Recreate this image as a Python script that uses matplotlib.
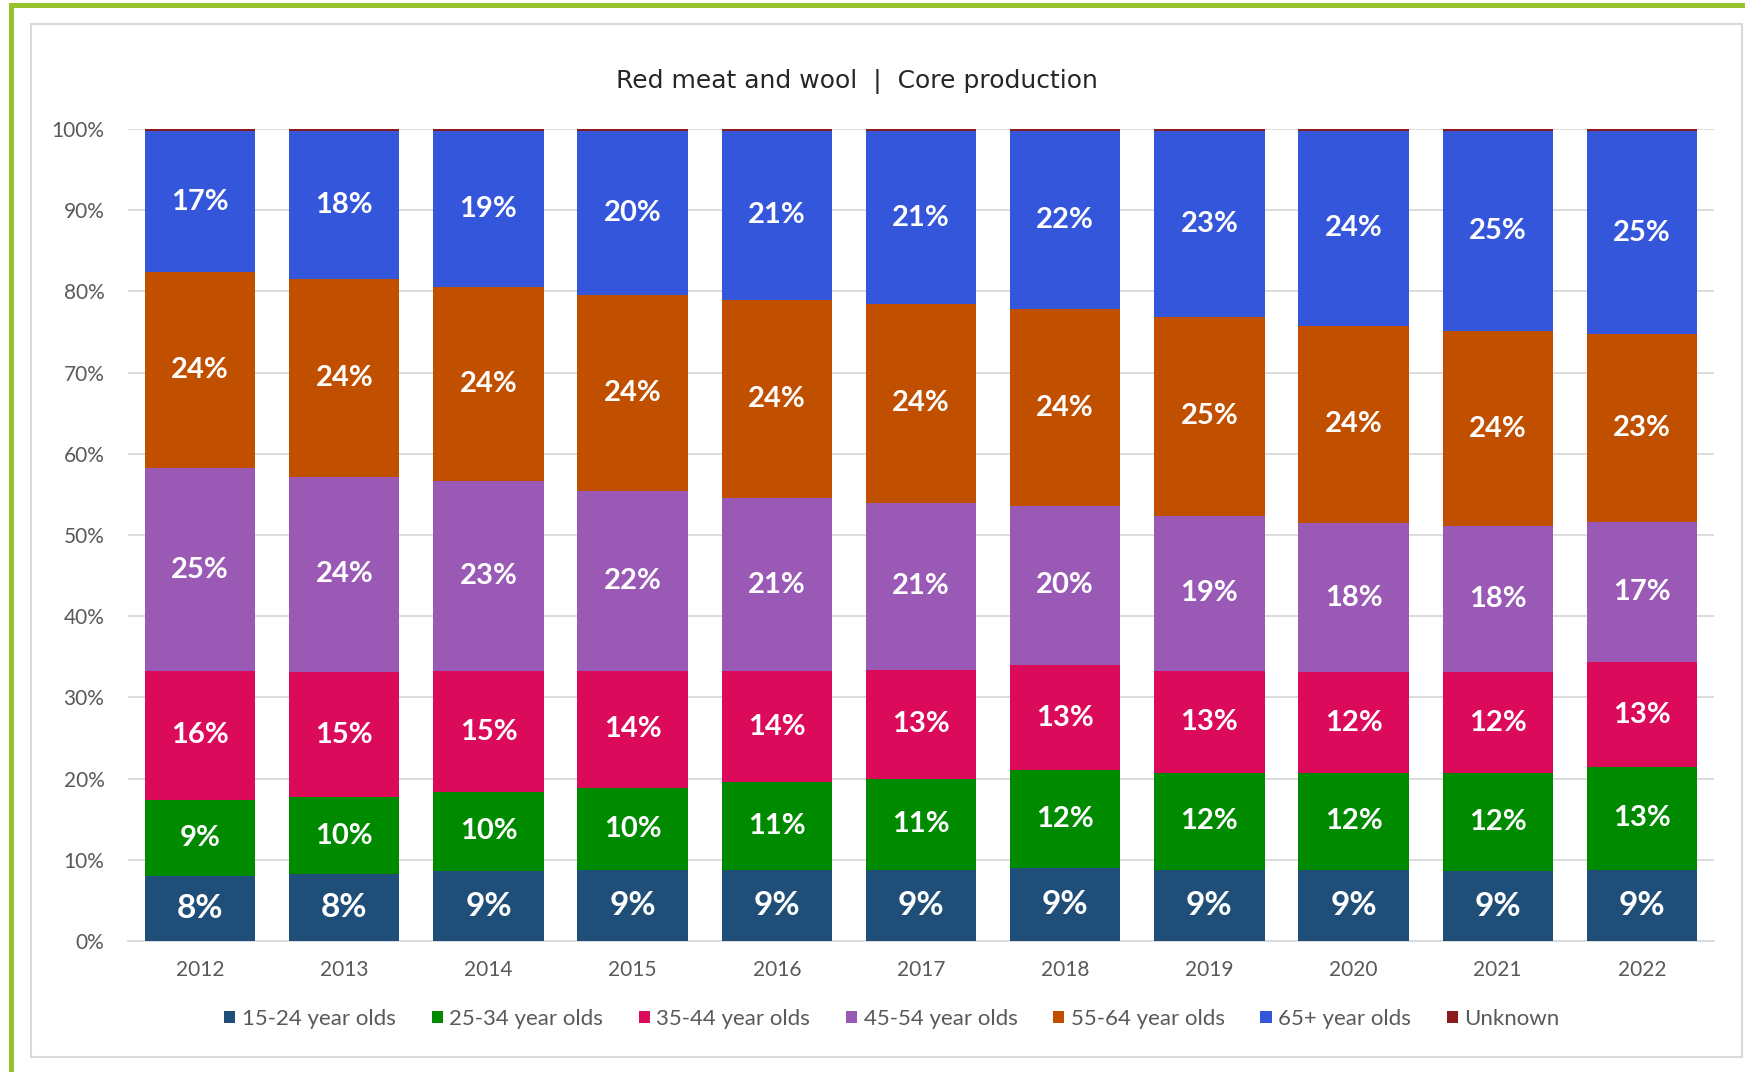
import matplotlib
matplotlib.use('Agg')
import matplotlib.pyplot as plt
from matplotlib.patches import Rectangle
import numpy as np

# ── Data: share of workforce by age group (%) ─────────────────────────
years = ["2012", "2013", "2014", "2015", "2016", "2017", "2018", "2019", "2020", "2021", "2022"]

age_15_24 = [8.0, 8.2, 8.6, 8.8, 8.8, 8.8, 9.0, 8.8, 8.8, 8.6, 8.8]
age_25_34 = [9.4, 9.5, 9.8, 10.1, 10.8, 11.2, 12.0, 11.9, 11.9, 12.1, 12.6]
age_35_44 = [15.9, 15.4, 14.8, 14.3, 13.6, 13.4, 13.0, 12.6, 12.4, 12.4, 12.9]
age_45_54 = [24.9, 24.1, 23.4, 22.2, 21.4, 20.6, 19.6, 19.0, 18.4, 18.0, 17.3]
age_55_64 = [24.2, 24.3, 23.9, 24.2, 24.4, 24.4, 24.2, 24.6, 24.3, 24.0, 23.2]
age_65_up = [17.3, 18.2, 19.2, 20.1, 20.7, 21.3, 21.9, 22.8, 23.9, 24.6, 24.9]
unknown = [0.3, 0.3, 0.3, 0.3, 0.3, 0.3, 0.3, 0.3, 0.3, 0.3, 0.3]

series_names = ["15-24 year olds", "25-34 year olds", "35-44 year olds",
                "45-54 year olds", "55-64 year olds", "65+ year olds", "Unknown"]
series_vals = [age_15_24, age_25_34, age_35_44, age_45_54, age_55_64, age_65_up, unknown]
series_cols = ["#1F4E79", "#008A00", "#DC0A5A", "#9B59B6", "#C04F00", "#3456DA", "#8B1A1A"]

TXT = "#595959"

fig = plt.figure(figsize=(17.45, 10.72), dpi=100)

# outer green frame (top + left) and light grey chart box
fig.patches.append(Rectangle((9 / 1745, 0), 5 / 1745, 1 - 3 / 1072, transform=fig.transFigure,
                             facecolor="#96C32D", edgecolor="none", zorder=-2))
fig.patches.append(Rectangle((9 / 1745, 1 - 8 / 1072), 1, 5 / 1072, transform=fig.transFigure,
                             facecolor="#96C32D", edgecolor="none", zorder=-2))
fig.patches.append(Rectangle((31 / 1745, 1 - 1057 / 1072), (1742 - 31) / 1745, (1057 - 24) / 1072,
                             transform=fig.transFigure, facecolor="white",
                             edgecolor="#D9D9D9", linewidth=1.5, zorder=-1))

ax = fig.add_axes([128 / 1745, 1 - 941 / 1072, (1714 - 128) / 1745, (941 - 129) / 1072])
ax.set_facecolor("none")
ax.set_zorder(2)

x = np.arange(len(years))
bottom = np.zeros(len(years))
handles = []
for i, (name, vals, col) in enumerate(zip(series_names, series_vals, series_cols)):
    vals = np.array(vals)
    bars = ax.bar(x, vals, width=0.765, bottom=bottom, color=col, label=name, zorder=3)
    handles.append(bars)
    if name != "Unknown":
        size = 24 if i == 0 else 21
        for xi, b, v in zip(x, bottom, vals):
            ax.text(xi, b + v / 2, f"{v:.0f}%", ha="center", va="center", color="white",
                    fontsize=size, fontweight="bold", family="Lato", zorder=4)
    bottom += vals

ax.set_xlim(-0.5, len(years) - 0.5)
ax.set_ylim(0, 100)
ax.set_yticks(np.arange(0, 101, 10))
ax.set_yticklabels([f"{t}%" for t in range(0, 101, 10)])
ax.set_xticks(x)
ax.set_xticklabels(years)
ax.tick_params(axis="both", length=0, labelsize=15, labelcolor=TXT)
ax.tick_params(axis="y", pad=17)
ax.tick_params(axis="x", pad=14)
for lbl in ax.get_xticklabels() + ax.get_yticklabels():
    lbl.set_family("Lato")
ax.grid(axis="y", color="#D9D9D9", linewidth=1.3, zorder=0)
for s in ["top", "right", "left"]:
    ax.spines[s].set_visible(False)
ax.spines["bottom"].set_color("#D9D9D9")
ax.spines["bottom"].set_linewidth(1.3)

fig.text(857 / 1745, 1 - 81 / 1072, "Red meat and wool  |  Core production", ha="center", va="center",
         fontsize=18, color="#262626", family="DejaVu Sans")

fig.legend(handles=handles, labels=series_names, loc="center", ncol=7,
           bbox_to_anchor=(892 / 1745, 1 - 1019 / 1072), frameon=False,
           prop={"family": "Lato", "size": 16}, labelcolor=TXT,
           handlelength=0.5, handleheight=0.5, handletextpad=0.3, columnspacing=1.6)

fig.savefig("out.png", dpi=100)
